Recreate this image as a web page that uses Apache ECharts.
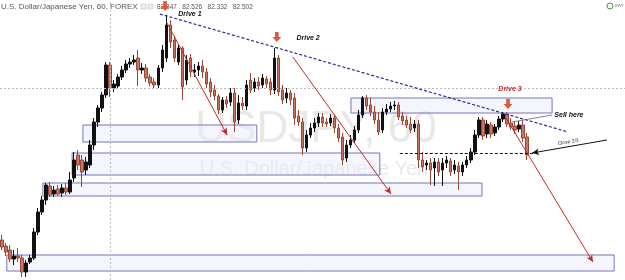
<!DOCTYPE html>
<html>
<head>
<meta charset="utf-8">
<script src="https://cdn.jsdelivr.net/npm/echarts@6/dist/echarts.min.js"></script>
<style>
html, body { margin: 0; padding: 0; background: #fff; }
#main { width: 625px; height: 280px; }
</style>
</head>
<body>
<div id="main"></div>
<script>
// USD/JPY 60 min bars, prices
var opens = [80.60,80.54,80.50,80.41,80.44,80.42,80.28,80.38,80.42,80.68,80.88,81.00,81.14,81.06,81.11,81.07,81.12,81.08,81.22,81.45,
  81.40,81.30,81.35,81.55,81.78,81.92,82.05,82.35,82.12,82.14,82.23,82.30,82.36,82.38,82.42,82.30,82.32,82.23,82.18,82.15,
  82.32,82.42,82.75,82.60,82.38,82.52,82.20,82.42,82.28,82.30,82.34,82.28,82.18,82.10,82.04,81.90,82.00,81.98,82.07,81.80,
  81.97,81.94,82.20,82.12,82.18,82.15,82.21,82.18,82.10,82.42,82.10,82.02,82.07,82.02,81.84,81.78,81.52,81.65,81.72,81.77,
  81.83,81.78,81.77,81.82,81.72,81.63,81.42,81.55,81.60,81.70,81.85,82.02,81.95,81.88,81.80,81.70,81.88,81.91,81.94,81.95,
  81.84,81.80,81.76,81.72,81.76,81.40,81.35,81.37,81.32,81.38,81.30,81.37,81.39,81.30,81.34,81.28,81.35,81.40,81.48,81.65,
  81.80,81.66,81.75,81.67,81.73,81.81,81.86,81.77,81.74,81.71,81.75,81.63];
var closes = [80.53,80.48,80.41,80.44,80.42,80.28,80.37,80.42,80.68,80.88,81.00,81.15,81.05,81.10,81.06,81.12,81.08,81.20,81.40,81.35,
  81.28,81.38,81.55,81.78,81.92,82.05,82.35,82.12,82.16,82.23,82.30,82.36,82.38,82.40,82.30,82.32,82.22,82.17,82.15,82.32,
  82.50,82.75,82.58,82.42,82.52,82.13,82.40,82.28,82.30,82.34,82.28,82.16,82.08,82.04,81.90,82.00,81.96,82.07,81.78,81.97,
  81.94,82.15,82.10,82.18,82.14,82.22,82.16,82.10,82.42,82.08,82.00,82.07,82.00,81.82,81.78,81.52,81.65,81.72,81.77,81.83,
  81.77,81.76,81.82,81.72,81.62,81.40,81.55,81.60,81.70,81.85,82.02,81.94,81.88,81.80,81.68,81.88,81.91,81.94,81.95,81.83,
  81.79,81.75,81.70,81.76,81.40,81.33,81.37,81.30,81.38,81.28,81.37,81.40,81.28,81.35,81.28,81.35,81.40,81.48,81.65,81.80,
  81.64,81.76,81.66,81.73,81.81,81.86,81.76,81.73,81.70,81.75,81.62,81.45];
var lows = [80.50,80.44,80.38,80.35,80.38,80.23,80.23,80.36,80.40,80.65,80.85,80.95,81.03,81.03,81.04,81.03,81.05,81.06,81.18,81.30,
  81.13,81.25,81.32,81.50,81.73,81.88,82.02,82.03,82.08,82.11,82.20,82.27,82.32,82.35,82.14,82.26,82.18,82.14,82.12,82.12,
  82.28,82.38,82.52,82.38,82.35,82.00,82.15,82.23,82.23,82.24,82.22,82.12,82.03,82.00,81.86,81.87,81.92,81.94,81.68,81.76,
  81.90,81.90,82.07,82.08,82.10,82.12,82.12,82.05,82.06,82.04,81.96,81.97,81.95,81.75,81.74,81.45,81.48,81.62,81.68,81.73,
  81.73,81.73,81.74,81.67,81.58,81.35,81.38,81.52,81.57,81.67,81.82,81.90,81.84,81.76,81.65,81.67,81.85,81.88,81.90,81.80,
  81.75,81.72,81.67,81.68,81.32,81.28,81.30,81.15,81.14,81.24,81.14,81.32,81.24,81.26,81.10,81.24,81.32,81.37,81.45,81.62,
  81.60,81.62,81.62,81.64,81.70,81.78,81.73,81.70,81.66,81.68,81.58,81.40];
var highs = [80.65,80.57,80.55,80.50,80.52,80.45,80.40,80.45,80.72,80.92,81.04,81.17,81.18,81.14,81.15,81.16,81.17,81.28,81.48,81.50,
  81.45,81.43,81.60,81.82,81.95,82.08,82.38,82.38,82.20,82.26,82.34,82.40,82.42,82.45,82.50,82.37,82.36,82.26,82.22,82.35,
  82.55,82.85,82.80,82.64,82.55,82.54,82.45,82.46,82.36,82.38,82.40,82.32,82.22,82.15,82.06,82.03,82.04,82.12,82.12,82.05,
  82.03,82.20,82.27,82.22,82.23,82.26,82.24,82.22,82.52,82.45,82.15,82.12,82.10,82.07,81.90,81.82,81.70,81.77,81.82,81.87,
  81.87,81.82,81.86,81.85,81.76,81.67,81.60,81.65,81.74,81.90,82.04,82.05,82.02,81.94,81.88,81.92,81.96,81.98,81.99,81.98,
  81.88,81.84,81.83,81.80,81.80,81.48,81.40,81.42,81.42,81.42,81.42,81.44,81.42,81.40,81.38,81.38,81.44,81.52,81.70,81.83,
  81.83,81.80,81.78,81.76,81.84,81.88,81.88,81.82,81.79,81.79,81.80,81.67];

// 156 hourly slots, the last ones are empty space to the right
var categories = [];
for (var i = 0; i < 156; i++) categories.push(String(i));

// drawings, in [bar index, price]
var zones = [
  [[20.2, 81.75], [63.6, 81.58]],
  [[17.5, 81.47], [94.3, 81.25]],
  [[10.2, 81.17], [119.8, 81.04]],
  [[1.2, 80.45], [152.8, 80.29]],
  [[87.1, 82.02], [137.3, 81.87]]
];
var trendLine = [[39.4, 82.86], [141.3, 81.68]];
var driveArrows = [
  [[41.2, 82.77], [56.2, 81.65]],
  [[72.6, 82.43], [97.1, 81.06]],
  [[125.8, 81.82], [147.5, 80.38]]
];
var closeLevel = [[99.3, 81.47], [132.5, 81.47]];
var closeArrow = [[151.0, 81.60], [132.3, 81.47]];
var sellLine = [[127.3, 81.78], [137.3, 81.85]];
var driveMarks = [[40.7, 82.94], [68.6, 82.63], [126.3, 81.96]];
var notes = [
  {text: 'Drive 1', at: [46.9, 82.86], color: '#111'},
  {text: 'Drive 2', at: [76.4, 82.62], color: '#111'},
  {text: 'Drive 3', at: [126.8, 82.11], color: '#c62828'},
  {text: 'Sell here', at: [141.5, 81.85], color: '#111'}
];
var crossX = 27;
var crossY = 82.12;

var candleData = opens.map(function (o, i) {
  return [o, closes[i], lows[i], highs[i]];
});

var lines = [];
lines.push([{coord: trendLine[0], lineStyle: {color: '#2a2a9a', type: [3, 2], width: 1.2}},
  {coord: trendLine[1]}]);
driveArrows.forEach(function (a) {
  lines.push([{coord: a[0], lineStyle: {color: '#c62828', type: 'solid', width: 1}},
    {coord: a[1], symbol: 'arrow', symbolSize: [5, 7]}]);
});
lines.push([{coord: closeLevel[0], lineStyle: {color: '#111', type: [3, 2], width: 1}},
  {coord: closeLevel[1]}]);
lines.push([{coord: closeArrow[0], lineStyle: {color: '#111', type: 'solid', width: 1}},
  {coord: closeArrow[1], symbol: 'arrow', symbolSize: [5, 7]}]);
lines.push([{coord: sellLine[0], lineStyle: {color: '#666', type: 'solid', width: 0.8}},
  {coord: sellLine[1]}]);

var crossLines = [
  {xAxis: crossX},
  {yAxis: crossY}
];

var points = driveMarks.map(function (p) {
  return {coord: p, symbol: 'path://M3,0L7,0L7,5L10,5L5,10L0,5L3,5Z', symbolSize: [9, 10],
    itemStyle: {color: '#e0583a'}, label: {show: false}};
});
notes.forEach(function (n) {
  points.push({coord: n.at, symbolSize: 0, label: {show: true, position: 'inside', formatter: n.text,
    color: n.color, fontSize: 7, fontWeight: 'bold', fontStyle: 'italic', fontFamily: 'Liberation Sans'}});
});
points.push({coord: [141.3, 81.58], symbolSize: 0, label: {show: true, position: 'inside', formatter: 'Close 2/3',
  color: '#333', fontSize: 5, rotate: 9, fontFamily: 'Liberation Sans'}});

var myChart = echarts.init(document.getElementById('main'));
var option = {
  animation: false,
  backgroundColor: '#fff',
  grid: {left: 0, right: 0, top: 0, bottom: 0},
  xAxis: [
    {type: 'category', data: categories, boundaryGap: true, show: false},
    {type: 'value', min: -0.5, max: 155.5, show: false}
  ],
  yAxis: {type: 'value', min: 80.2, max: 83.0, show: false},
  graphic: [
    {type: 'text', x: 316, y: 130, z: -1, style: {text: 'USDJPY, 60', fill: '#e8e8e8', fontSize: 44,
      fontFamily: 'Liberation Sans', textAlign: 'center', textVerticalAlign: 'middle'}},
    {type: 'text', x: 314, y: 169, z: -1, style: {text: 'U.S. Dollar/Japanese Yen', fill: '#e8e8e8', fontSize: 20,
      fontFamily: 'Liberation Sans', textAlign: 'center', textVerticalAlign: 'middle'}},
    {type: 'text', x: 1, y: 3, style: {text: 'U.S. Dollar/Japanese Yen, 60, FOREX', fill: '#555', fontSize: 8,
      fontFamily: 'Liberation Sans'}},
    {type: 'rect', shape: {x: 141, y: 4, width: 5, height: 5}, style: {fill: '#eee', stroke: '#bbb', lineWidth: 0.5}},
    {type: 'rect', shape: {x: 148, y: 4, width: 5, height: 5}, style: {fill: '#eee', stroke: '#bbb', lineWidth: 0.5}},
    {type: 'text', x: 157, y: 4, style: {text: '82.347   82.526   82.332   82.502', fill: '#555', fontSize: 6.5,
      fontFamily: 'Liberation Sans'}},
    {type: 'circle', shape: {cx: 610, cy: 6, r: 3}, style: {fill: 'none', stroke: '#3a9a4a', lineWidth: 1}},
    {type: 'text', x: 615, y: 4, style: {text: 'BWT', fill: '#777', fontSize: 4, fontFamily: 'Liberation Sans'}}
  ],
  series: [
    {
      name: 'zones',
      type: 'line',
      xAxisIndex: 1,
      z: 1,
      data: [],
      markArea: {
        silent: true,
        itemStyle: {color: 'rgba(236,236,252,0.5)', borderColor: '#7474bc', borderWidth: 1},
        data: zones.map(function (z) { return [{coord: z[0]}, {coord: z[1]}]; })
      },
      markLine: {
        silent: true,
        symbol: ['none', 'none'],
        label: {show: false},
        lineStyle: {color: '#bbb', type: [2, 2], width: 1},
        data: crossLines
      }
    },
    {
      name: 'USDJPY',
      type: 'candlestick',
      z: 3,
      barWidth: 3,
      data: candleData,
      itemStyle: {
        color: '#111',
        color0: '#c47864',
        borderColor: '#111',
        borderColor0: '#9c4535',
        borderWidth: 1
      }
    },
    {
      name: 'drawings',
      type: 'line',
      xAxisIndex: 1,
      z: 4,
      data: [],
      markLine: {
        silent: true,
        symbol: ['none', 'none'],
        label: {show: false},
        data: lines
      },
      markPoint: {
        silent: true,
        data: points
      }
    }
  ]
};
myChart.setOption(option);
</script>
</body>
</html>
